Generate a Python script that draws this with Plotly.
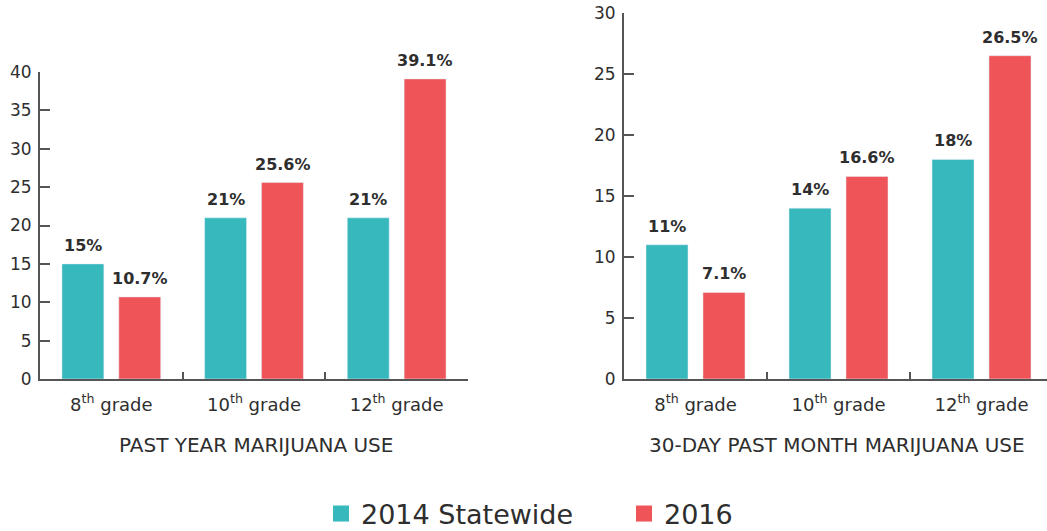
import plotly.graph_objects as go

categories = ["8<sup>th</sup> grade", "10<sup>th</sup> grade", "12<sup>th</sup> grade"]
series_names = ["2014 Statewide", "2016"]
past_year_2014 = [15, 21, 21]
past_year_2016 = [10.7, 25.6, 39.1]
past_month_2014 = [11, 14, 18]
past_month_2016 = [7.1, 16.6, 26.5]
label_year_2014 = ["15%", "21%", "21%"]
label_year_2016 = ["10.7%", "25.6%", "39.1%"]
label_month_2014 = ["11%", "14%", "18%"]
label_month_2016 = ["7.1%", "16.6%", "26.5%"]
panel_titles = ["PAST YEAR MARIJUANA USE", "30-DAY PAST MONTH MARIJUANA USE"]

TEAL = "#36B8BD"
RED = "#EF5558"
TXT = "#2e2e2e"
AX = "#555555"
FONT = "DejaVu Sans"

W, H = 1047, 531
fig = go.Figure()

panels = [
    ("x", "y", past_year_2014, past_year_2016, label_year_2014, label_year_2016),
    ("x2", "y2", past_month_2014, past_month_2016, label_month_2014, label_month_2016),
]
for xa, ya, s1, s2, l1, l2 in panels:
    fig.add_trace(go.Bar(x=categories, y=s1, marker_color=TEAL, name=series_names[0],
                         xaxis=xa, yaxis=ya, showlegend=False, offsetgroup="a"))
    fig.add_trace(go.Bar(x=categories, y=s2, marker_color=RED, name=series_names[1],
                         xaxis=xa, yaxis=ya, showlegend=False, offsetgroup="b"))
    for i, c in enumerate(categories):
        for val, lab, sh in ((s1[i], l1[i], -28.5), (s2[i], l2[i], 28.5)):
            fig.add_annotation(x=c, y=val, xref=xa, yref=ya, text=lab, showarrow=False,
                               xshift=sh, yshift=7, yanchor="bottom",
                               font=dict(family=FONT, size=16, color=TXT, weight=600))

# legend entries
for name, col in zip(series_names, [TEAL, RED]):
    fig.add_trace(go.Scatter(x=[None], y=[None], mode="markers", name=name,
                             marker=dict(symbol="square", size=22, color=col)))

plot_h = 379
axis_common = dict(showgrid=False, zeroline=False, showline=True, linecolor=AX, linewidth=2,
                   ticks="inside", tickcolor=AX, tickwidth=2)
xfont = dict(family=FONT, size=18, color=TXT)
yfont = dict(family=FONT, size=17, color=TXT)
fig.update_layout(
    width=W, height=H,
    margin=dict(l=0, r=0, t=0, b=H - plot_h, autoexpand=False),
    paper_bgcolor="white", plot_bgcolor="white",
    barmode="group", bargap=0.203, bargroupgap=0.263,
    xaxis=dict(domain=[40 / W, 468 / W], range=[-0.5, 2.5], tickson="boundaries",
               ticklen=7, ticklabelstandoff=8, anchor="y", tickfont=xfont, **axis_common),
    yaxis=dict(domain=[0, (plot_h - 72) / plot_h], range=[0, 40], dtick=5, ticklen=10,
               anchor="x", ticklabelstandoff=3, tickfont=yfont, **axis_common),
    xaxis2=dict(domain=[624 / W, 1.0], range=[-0.5, 2.5 - 6 / 143], tickson="boundaries",
                ticklen=7, ticklabelstandoff=8, anchor="y2", tickfont=xfont, **axis_common),
    yaxis2=dict(domain=[0, (plot_h - 13) / plot_h], range=[0, 30], dtick=5, ticklen=10,
                anchor="x2", ticklabelstandoff=3, tickfont=yfont, **axis_common),
    legend=dict(orientation="h", x=321 / W, xanchor="left", y=(plot_h - 514) / plot_h,
                yanchor="middle", font=dict(family=FONT, size=27, color=TXT),
                itemsizing="trace", entrywidth=258, entrywidthmode="pixels"),
    font=dict(family=FONT, color=TXT),
)

fig.add_annotation(x=256 / W, y=(plot_h - 445) / plot_h, xref="paper", yref="paper",
                   text=panel_titles[0], showarrow=False, xanchor="center", yanchor="middle",
                   font=dict(family=FONT, size=20, color=TXT))
fig.add_annotation(x=837 / W, y=(plot_h - 445) / plot_h, xref="paper", yref="paper",
                   text=panel_titles[1], showarrow=False, xanchor="center", yanchor="middle",
                   font=dict(family=FONT, size=20, color=TXT))

fig.write_html("out.html", config={"displayModeBar": False},
               post_script="document.body.style.margin='0px';")
